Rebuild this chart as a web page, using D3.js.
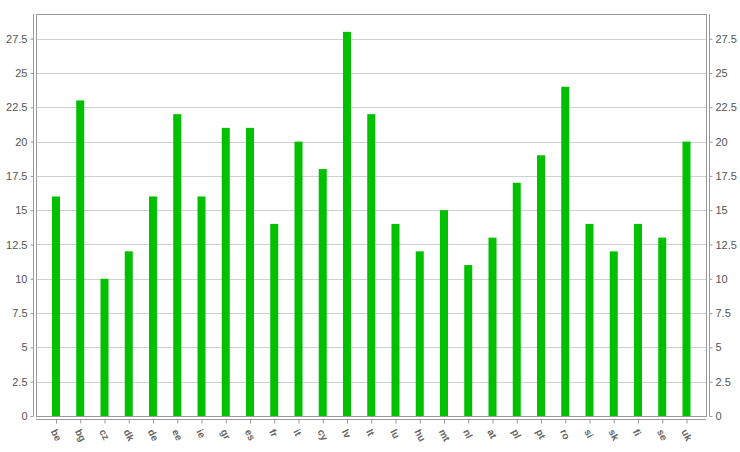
<!DOCTYPE html>
<html><head><meta charset="utf-8">
<script src="https://cdn.jsdelivr.net/npm/d3@7"></script>
<style>body{margin:0;background:#fff;}svg{display:block;}</style>
</head><body>
<svg id="c" width="740" height="452"></svg>
<script>
const categories = ["be","bg","cz","dk","de","ee","ie","gr","es","fr","it","cy","lv","lt","lu","hu","mt","nl","at","pl","pt","ro","si","sk","fi","se","uk"];
const values = [16,23,10,12,16,22,16,21,21,14,20,18,28,22,14,12,15,11,13,17,19,24,14,12,14,13,20];
const yTicks = [0,2.5,5,7.5,10,12.5,15,17.5,20,22.5,25,27.5];

const svg = d3.select("#c");
const L = 36, R = 706, T = 14, B = 416;
const x = d3.scalePoint().domain(categories).range([56, 686.5]);
const y = d3.scaleLinear().domain([0, 29.3]).range([B, T]);
const fmt = d => String(d);

// gridlines
svg.append("g").selectAll("line").data(yTicks).join("line")
  .attr("x1", L).attr("x2", R).attr("y1", d => Math.round(y(d)) + 0.5).attr("y2", d => Math.round(y(d)) + 0.5)
  .attr("stroke", "#d0d0d0").attr("stroke-width", 1);

// bars
svg.append("g").selectAll("rect").data(values).join("rect")
  .attr("x", (d, i) => x(categories[i]) - 4)
  .attr("width", 8)
  .attr("y", d => y(d))
  .attr("height", d => B - y(d))
  .attr("fill", "#00c000");

// plot box
svg.append("rect").attr("x", L + 0.5).attr("y", T + 0.5).attr("width", R - L).attr("height", B - T)
  .attr("fill", "none").attr("stroke", "#999");

// left axis
const la = svg.append("g").attr("transform", "translate(33.5,0)")
  .call(d3.axisLeft(y).tickValues(yTicks).tickFormat(fmt).tickSize(3).tickPadding(3));
la.select(".domain").attr("d", `M0,${T}V${B}`);
// right axis
const ra = svg.append("g").attr("transform", "translate(709.5,0)")
  .call(d3.axisRight(y).tickValues(yTicks).tickFormat(fmt).tickSize(3).tickPadding(3));
ra.select(".domain").attr("d", `M0,${T}V${B}`);
[la, ra].forEach(a => {
  a.selectAll(".domain").attr("stroke", "#999");
  a.selectAll(".tick line").attr("stroke", "#999");
  a.selectAll("text").attr("fill", "#555").style("font-family", "Liberation Sans, Arial, sans-serif").style("font-size", "11px");
});

// bottom axis
const ba = svg.append("g").attr("transform", "translate(0,419.5)")
  .call(d3.axisBottom(x).tickSize(4).tickPadding(4));
ba.select(".domain").attr("d", `M${L},0H${R}`).attr("stroke", "#999");
ba.selectAll(".tick line").attr("stroke", "#999");
ba.selectAll("text")
  .attr("fill", "#666")
  .style("font-family", "Liberation Sans, Arial, sans-serif").style("font-size", "10px").style("font-weight", "bold")
  .attr("text-anchor", "start")
  .attr("y", 0).attr("dy", "0")
  .attr("transform", "translate(-6,12) rotate(62)");
</script>
</body></html>
